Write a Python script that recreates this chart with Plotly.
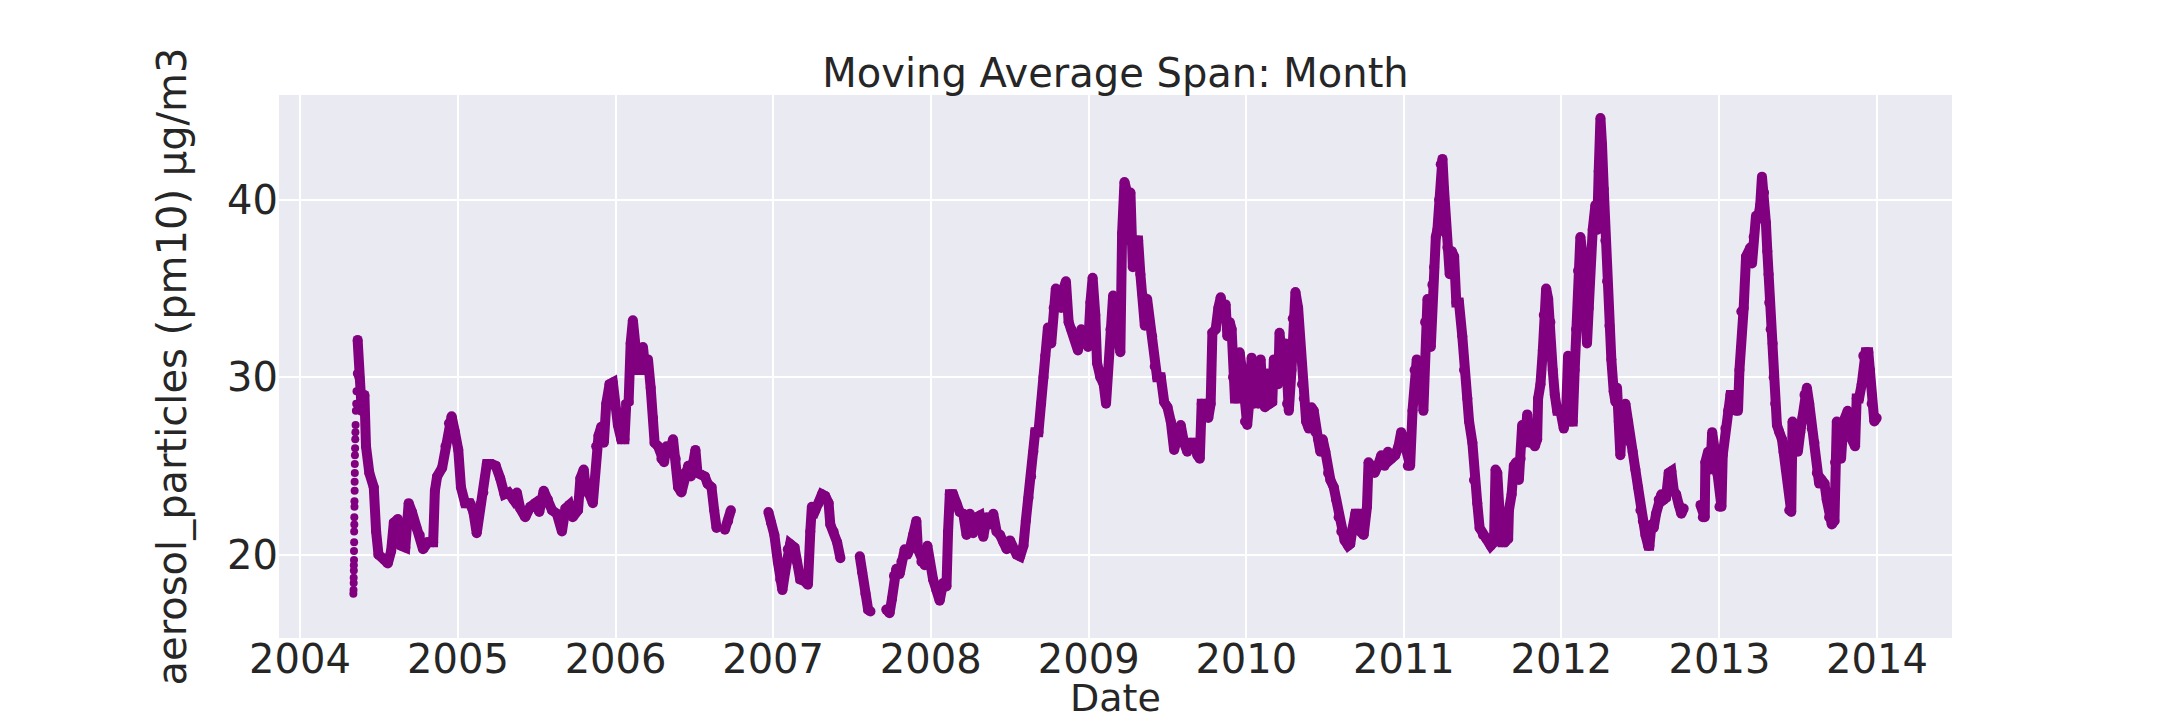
from datetime import datetime, timedelta
import plotly.graph_objects as go

# values (decimal year, pm10 moving average)
# None entries mark the gaps in the record
main_t = [
    2004.365, 2004.376, 2004.391, 2004.408, 2004.418, 2004.439, 2004.467, 2004.482, 2004.497, 2004.535,
    2004.556, 2004.577, 2004.594, 2004.620, 2004.641, 2004.667, 2004.688, 2004.709, 2004.737, 2004.758,
    2004.779, 2004.811, 2004.843, 2004.854, 2004.868, 2004.900, 2004.921, 2004.943, 2004.960, 2004.981,
    2005.002, 2005.019, 2005.045, 2005.076, 2005.098, 2005.119, 2005.140, 2005.161, 2005.183, 2005.214,
    2005.240, 2005.268, 2005.295, 2005.321, 2005.352, 2005.374, 2005.395, 2005.427, 2005.459, 2005.490,
    2005.516, 2005.544, 2005.571, 2005.597, 2005.628, 2005.660, 2005.682, 2005.707, 2005.728, 2005.762,
    2005.777, 2005.798, 2005.813, 2005.834, 2005.856, 2005.877, 2005.892, 2005.909, 2005.926, 2005.941,
    2005.962, 2005.983, 2005.998, 2006.015, 2006.036, 2006.057, 2006.068, 2006.083, 2006.096, 2006.110,
    2006.125, 2006.142, 2006.159, 2006.174, 2006.189, 2006.206, 2006.223, 2006.238, 2006.248, 2006.270,
    2006.291, 2006.308, 2006.323, 2006.344, 2006.365, 2006.382, 2006.397, 2006.418, 2006.439, 2006.461,
    2006.478, 2006.493, 2006.507, 2006.520, 2006.546, 2006.567, 2006.584, 2006.609, 2006.626, 2006.641,
    2006.667,
    2006.694, 2006.715, 2006.732,
    2006.850,
    2006.970, 2006.987, 2007.008, 2007.030, 2007.045, 2007.059, 2007.076, 2007.093, 2007.108, 2007.136,
    2007.151, 2007.172, 2007.200, 2007.221, 2007.236, 2007.246, 2007.268, 2007.289, 2007.310, 2007.331,
    2007.352, 2007.363, 2007.384, 2007.406, 2007.427,
    2007.490,
    2007.550, 2007.565, 2007.586, 2007.603, 2007.618,
    2007.670,
    2007.718, 2007.739, 2007.754, 2007.767, 2007.782, 2007.803, 2007.814, 2007.835, 2007.852, 2007.867,
    2007.888, 2007.909, 2007.919, 2007.941, 2007.962, 2007.979, 2007.994, 2008.015, 2008.036, 2008.057,
    2008.078, 2008.100, 2008.110, 2008.121, 2008.142, 2008.163, 2008.184, 2008.206, 2008.227, 2008.248,
    2008.269, 2008.290, 2008.311, 2008.333, 2008.354, 2008.375, 2008.396, 2008.417, 2008.439, 2008.460,
    2008.481, 2008.502, 2008.523, 2008.544, 2008.566, 2008.587, 2008.602, 2008.619, 2008.636, 2008.650,
    2008.661, 2008.682, 2008.699, 2008.714, 2008.725, 2008.742, 2008.763, 2008.778, 2008.792, 2008.809,
    2008.826, 2008.841, 2008.856, 2008.873, 2008.890, 2008.911, 2008.932, 2008.953, 2008.975, 2008.996,
    2009.011, 2009.025, 2009.042, 2009.053, 2009.074, 2009.095, 2009.110, 2009.123, 2009.138, 2009.155,
    2009.169, 2009.186, 2009.201, 2009.212, 2009.227, 2009.244, 2009.254, 2009.265, 2009.280, 2009.297,
    2009.314, 2009.328, 2009.343, 2009.356, 2009.371, 2009.386, 2009.403, 2009.419, 2009.434, 2009.458,
    2009.479, 2009.500, 2009.521, 2009.542, 2009.563, 2009.584, 2009.605, 2009.626, 2009.648, 2009.669,
    2009.690, 2009.705, 2009.717, 2009.743, 2009.759, 2009.774, 2009.785, 2009.806, 2009.823, 2009.838,
    2009.852, 2009.869, 2009.880, 2009.895, 2009.907, 2009.916, 2009.928, 2009.943, 2009.958, 2009.975,
    2009.992, 2010.006, 2010.021, 2010.034, 2010.049, 2010.063, 2010.076, 2010.091, 2010.105, 2010.118,
    2010.133, 2010.148, 2010.165, 2010.175, 2010.190, 2010.203, 2010.211, 2010.228, 2010.238, 2010.249,
    2010.259, 2010.270, 2010.287, 2010.295, 2010.312, 2010.329, 2010.344, 2010.354, 2010.365, 2010.380,
    2010.397, 2010.414, 2010.428, 2010.439, 2010.456, 2010.470, 2010.485, 2010.502, 2010.519, 2010.534,
    2010.555, 2010.570, 2010.586, 2010.603, 2010.624, 2010.646, 2010.660, 2010.675, 2010.692, 2010.709,
    2010.724, 2010.745, 2010.766, 2010.776, 2010.793, 2010.814, 2010.835, 2010.857, 2010.878, 2010.899,
    2010.920, 2010.945, 2010.966, 2010.983, 2011.004, 2011.025, 2011.040, 2011.055, 2011.068, 2011.082,
    2011.097, 2011.114, 2011.124, 2011.135, 2011.150, 2011.171, 2011.181, 2011.192, 2011.203, 2011.213,
    2011.224, 2011.234, 2011.245, 2011.255, 2011.266, 2011.276, 2011.291, 2011.304, 2011.319, 2011.333,
    2011.350, 2011.371, 2011.382, 2011.403, 2011.414, 2011.435, 2011.445, 2011.466, 2011.481, 2011.502,
    2011.523, 2011.551, 2011.572, 2011.582, 2011.593, 2011.608, 2011.624, 2011.641, 2011.662, 2011.667,
    2011.684, 2011.698, 2011.713, 2011.730, 2011.741, 2011.751, 2011.768, 2011.783, 2011.797, 2011.814,
    2011.831, 2011.846, 2011.852, 2011.867, 2011.882, 2011.888, 2011.903, 2011.916, 2011.930, 2011.945,
    2011.958, 2011.973, 2011.994, 2012.015, 2012.030, 2012.042, 2012.057, 2012.072, 2012.084, 2012.093,
    2012.105, 2012.120, 2012.135, 2012.148, 2012.162, 2012.173, 2012.184, 2012.198, 2012.215, 2012.226,
    2012.236, 2012.247, 2012.257, 2012.268, 2012.278, 2012.289, 2012.304, 2012.316, 2012.331, 2012.342,
    2012.352, 2012.363, 2012.373, 2012.388, 2012.405, 2012.422, 2012.437, 2012.451, 2012.468, 2012.485,
    2012.500, 2012.515, 2012.532, 2012.549, 2012.557, 2012.570, 2012.584, 2012.599, 2012.616, 2012.633,
    2012.648, 2012.662, 2012.679, 2012.696, 2012.711, 2012.726, 2012.743, 2012.759, 2012.774,
    2012.830,
    2012.880, 2012.895, 2012.907, 2012.911, 2012.928, 2012.943, 2012.954, 2012.970, 2012.985, 2013.000,
    2013.013, 2013.021, 2013.038, 2013.055, 2013.070, 2013.091, 2013.105, 2013.118, 2013.127, 2013.139,
    2013.154, 2013.169, 2013.186, 2013.196, 2013.207, 2013.217, 2013.232, 2013.245, 2013.259, 2013.270,
    2013.283, 2013.295, 2013.304, 2013.312, 2013.316, 2013.325, 2013.338, 2013.344, 2013.354, 2013.365,
    2013.380, 2013.397, 2013.407, 2013.422, 2013.435, 2013.443, 2013.456, 2013.464, 2013.481, 2013.498,
    2013.513, 2013.527, 2013.540, 2013.555, 2013.570, 2013.586, 2013.603, 2013.618, 2013.633, 2013.650,
    2013.667, 2013.681, 2013.696, 2013.713, 2013.730, 2013.734, 2013.745, 2013.759, 2013.772, 2013.787,
    2013.802, 2013.814, 2013.829, 2013.844, 2013.861, 2013.871, 2013.886, 2013.903, 2013.913, 2013.928,
    2013.945, 2013.956, 2013.966, 2013.983, 2013.998,
]
main_v = [
    32.1, 30.0, 28.1, 29.0, 26.1, 24.6, 23.8, 21.3, 20.0, 19.7,
    19.5, 20.2, 21.8, 22.0, 20.5, 20.4, 22.9, 22.4, 21.5, 21.1,
    20.3, 20.7, 20.7, 23.6, 24.4, 24.9, 26.1, 27.4, 27.8, 26.9,
    25.9, 23.8, 22.9, 22.9, 22.4, 21.2, 22.8, 23.5, 25.1, 25.1,
    25.0, 24.3, 23.4, 23.5, 23.1, 23.5, 22.6, 22.1, 22.7, 22.9,
    22.4, 23.6, 23.1, 22.5, 22.3, 21.3, 22.6, 22.8, 22.1, 22.5,
    24.3, 24.8, 23.6, 23.4, 22.9, 26.1, 26.7, 27.2, 26.3, 28.5,
    29.6, 29.7, 28.3, 27.3, 26.5, 26.5, 28.5, 28.6, 31.9, 33.2,
    31.9, 30.4, 30.4, 31.7, 30.4, 31.0, 29.4, 27.7, 26.3, 26.1,
    25.4, 25.2, 26.1, 25.8, 26.5, 25.4, 23.8, 23.5, 24.6, 25.0,
    24.4, 25.2, 25.9, 24.6, 24.5, 24.4, 24.0, 23.8, 22.5, 21.5,
    None,
    21.4, 21.9, 22.5,
    None,
    22.4, 21.8, 21.1, 19.6, 18.6, 18.0, 19.0, 20.3, 20.6, 20.4,
    19.6, 18.6, 18.5, 18.3, 21.3, 22.7, 22.5, 22.9, 23.4, 23.3,
    22.9, 21.7, 21.3, 20.7, 19.8,
    None,
    19.9, 19.0, 17.8, 16.9, 16.8,
    None,
    16.9, 16.7, 17.5, 18.8, 19.2, 18.9, 19.6, 20.3, 20.0, 20.3,
    21.1, 21.9, 20.3, 19.6, 19.4, 20.5, 19.4, 18.6, 18.0, 17.4,
    18.4, 18.2, 21.3, 23.4, 23.4, 22.9, 22.4, 22.3, 21.1, 22.3,
    21.2, 22.1, 22.2, 21.0, 22.1, 21.7, 22.3, 21.3, 21.1, 20.7,
    20.3, 20.8, 20.3, 20.0, 19.9, 20.5, 21.9, 23.2, 24.4, 25.8,
    26.9, 26.9, 28.5, 30.0, 31.2, 32.8, 31.9, 33.9, 35.0, 34.1,
    33.9, 35.0, 35.4, 33.1, 32.7, 32.3, 31.5, 32.7, 32.1, 31.7,
    34.2, 35.6, 33.5, 30.8, 30.0, 29.6, 28.5, 30.4, 32.7, 34.6,
    33.5, 31.9, 31.4, 38.1, 41.0, 40.4, 37.7, 40.4, 36.2, 37.7,
    37.7, 35.8, 34.6, 32.9, 34.4, 33.1, 32.3, 30.6, 30.0, 30.0,
    28.6, 28.3, 27.5, 25.9, 26.9, 27.3, 26.3, 25.8, 26.3, 26.3,
    25.6, 25.4, 28.5, 28.5, 27.7, 28.5, 32.5, 32.7, 33.9, 34.5,
    33.5, 34.1, 32.3, 33.1, 32.7, 30.0, 28.8, 28.8, 31.4, 30.2,
    27.5, 27.3, 28.8, 31.1, 28.5, 30.8, 28.5, 31.0, 28.8, 28.3,
    30.2, 28.5, 28.6, 31.0, 30.0, 29.6, 32.5, 31.5, 30.0, 31.9,
    28.5, 28.1, 30.4, 33.3, 34.8, 33.9, 31.5, 29.6, 28.8, 27.5,
    27.1, 28.3, 28.1, 26.9, 26.5, 25.8, 26.5, 25.8, 24.6, 24.2,
    23.8, 23.1, 22.1, 21.3, 20.8, 20.5, 20.6, 21.5, 22.3, 22.3,
    21.3, 21.1, 22.7, 25.2, 25.0, 24.6, 25.0, 25.6, 25.0, 25.8,
    25.4, 25.6, 26.1, 26.9, 26.3, 25.0, 25.0, 28.1, 30.4, 31.0,
    28.8, 30.4, 28.1, 33.1, 34.4, 31.7, 35.2, 36.2, 37.9, 38.3,
    40.0, 42.0, 42.3, 40.6, 38.1, 37.3, 35.8, 37.1, 36.8, 34.2,
    34.2, 32.3, 30.4, 28.8, 27.5, 26.3, 24.2, 22.9, 21.5, 21.1,
    20.9, 20.5, 20.7, 24.8, 24.6, 22.3, 20.7, 20.7, 20.9, 22.5,
    23.4, 25.0, 25.2, 24.2, 25.4, 27.3, 26.3, 27.9, 26.3, 26.9,
    26.1, 26.5, 28.8, 29.6, 31.5, 33.5, 35.0, 34.4, 33.1, 30.4,
    29.0, 28.1, 28.1, 27.1, 28.1, 31.2, 27.5, 27.5, 30.4, 32.7,
    36.0, 37.9, 36.8, 33.5, 31.9, 33.9, 36.8, 38.3, 39.7, 38.3,
    41.6, 44.6, 43.1, 40.6, 37.7, 35.4, 32.9, 31.0, 29.2, 28.6,
    29.4, 27.5, 25.6, 28.1, 28.5, 27.5, 26.3, 25.8, 24.8, 23.8,
    22.5, 21.9, 21.1, 20.5, 20.5, 21.7, 21.5, 22.3, 23.1, 23.4,
    23.1, 23.2, 24.6, 24.7, 23.6, 23.4, 22.8, 22.3, 22.6,
    None,
    22.8, 22.1, 22.1, 25.2, 25.8, 24.8, 26.9, 25.9, 24.6, 22.7,
    22.7, 25.6, 27.1, 28.1, 29.0, 29.0, 28.1, 28.1, 30.4, 33.7,
    33.9, 36.8, 37.0, 37.3, 36.4, 37.9, 39.1, 38.9, 39.7, 41.3,
    40.4, 38.7, 37.1, 35.8, 34.2, 32.7, 31.9, 30.0, 28.5, 27.3,
    26.9, 26.5, 25.8, 24.8, 24.0, 22.5, 22.4, 27.5, 26.1, 25.8,
    26.9, 27.7, 29.0, 29.4, 28.5, 27.1, 26.3, 24.6, 24.0, 24.2,
    24.0, 23.1, 22.1, 21.7, 21.9, 25.2, 27.5, 27.3, 25.4, 27.5,
    27.7, 28.1, 26.7, 26.5, 26.1, 28.8, 28.8, 29.6, 31.2, 31.4,
    31.4, 30.4, 28.5, 27.5, 27.7,
]

# first days of the record, where the average is still filling up
ramp_t = [
    2004.338, 2004.339, 2004.340, 2004.340, 2004.341, 2004.341, 2004.342, 2004.342, 2004.343,
    2004.343, 2004.344, 2004.344, 2004.345, 2004.345, 2004.346, 2004.346, 2004.347, 2004.347,
    2004.348, 2004.349, 2004.350, 2004.351, 2004.352, 2004.354, 2004.356, 2004.358, 2004.360,
]
ramp_v = [
    17.8, 18.0, 18.4, 18.7, 19.1, 19.4, 19.7, 20.2, 20.7,
    21.3, 21.7, 22.1, 22.7, 23.0, 23.6, 24.1, 24.6, 25.1,
    25.6, 26.0, 26.5, 26.9, 27.3, 28.1, 28.5, 29.2, 30.2,
]

year_ticks = list(range(2004, 2015))


def to_date(t):
    if t is None:
        return None
    year = int(t)
    start = datetime(year, 1, 1)
    days = (datetime(year + 1, 1, 1) - start).days
    return start + timedelta(days=(t - year) * days)


PURPLE = '#800080'
TEXT = '#262626'
FONT = 'DejaVu Sans'

fig = go.Figure()

fig.add_trace(go.Scatter(
    x=[to_date(t) for t in ramp_t],
    y=ramp_v,
    mode='markers',
    marker=dict(color=PURPLE, size=8),
    showlegend=False,
))

fig.add_trace(go.Scatter(
    x=[to_date(t) for t in main_t],
    y=main_v,
    mode='lines+markers',
    line=dict(color=PURPLE, width=10),
    marker=dict(color=PURPLE, size=10),
    connectgaps=False,
    showlegend=False,
))

fig.update_layout(
    width=2160,
    height=720,
    margin=dict(l=271, r=216, t=87, b=90),
    paper_bgcolor='white',
    plot_bgcolor='#EAEAF2',
    font=dict(family=FONT, size=40, color=TEXT),
    title=dict(
        text='Moving Average Span: Month',
        x=(271 + 1944) / 2 / 2160,
        xanchor='center',
        y=1 - 65 / 720,
        yanchor='middle',
        yref='container',
        font=dict(family=FONT, size=40, color=TEXT),
    ),
    # x axis title as an annotation, its box resting just above the bottom edge
    annotations=[dict(
        text='Date',
        xref='paper', x=0.5, xanchor='center',
        yref='paper', y=-84 / 543, yanchor='bottom',
        showarrow=False,
        font=dict(family=FONT, size=38, color=TEXT),
    )],
)

fig.update_xaxes(
    range=[to_date(2003.867), to_date(2014.476)],
    tickvals=[datetime(y, 1, 1) for y in year_ticks],
    ticktext=[str(y) for y in year_ticks],
    showgrid=True,
    gridcolor='white',
    gridwidth=1.5,
    zeroline=False,
    showline=False,
    ticks='',
    ticklabelstandoff=-6,
    tickfont=dict(size=40, color=TEXT),
    automargin=False,
)

fig.update_yaxes(
    range=[15.3, 45.9],
    tickvals=[20, 30, 40],
    showgrid=True,
    gridcolor='white',
    gridwidth=1.5,
    zeroline=False,
    showline=False,
    ticks='',
    tickfont=dict(size=40, color=TEXT),
    title=dict(text='aerosol_particles (pm10) µg/m3', standoff=28, font=dict(size=40, color=TEXT)),
    automargin=False,
)

fig.write_html("out.html")
